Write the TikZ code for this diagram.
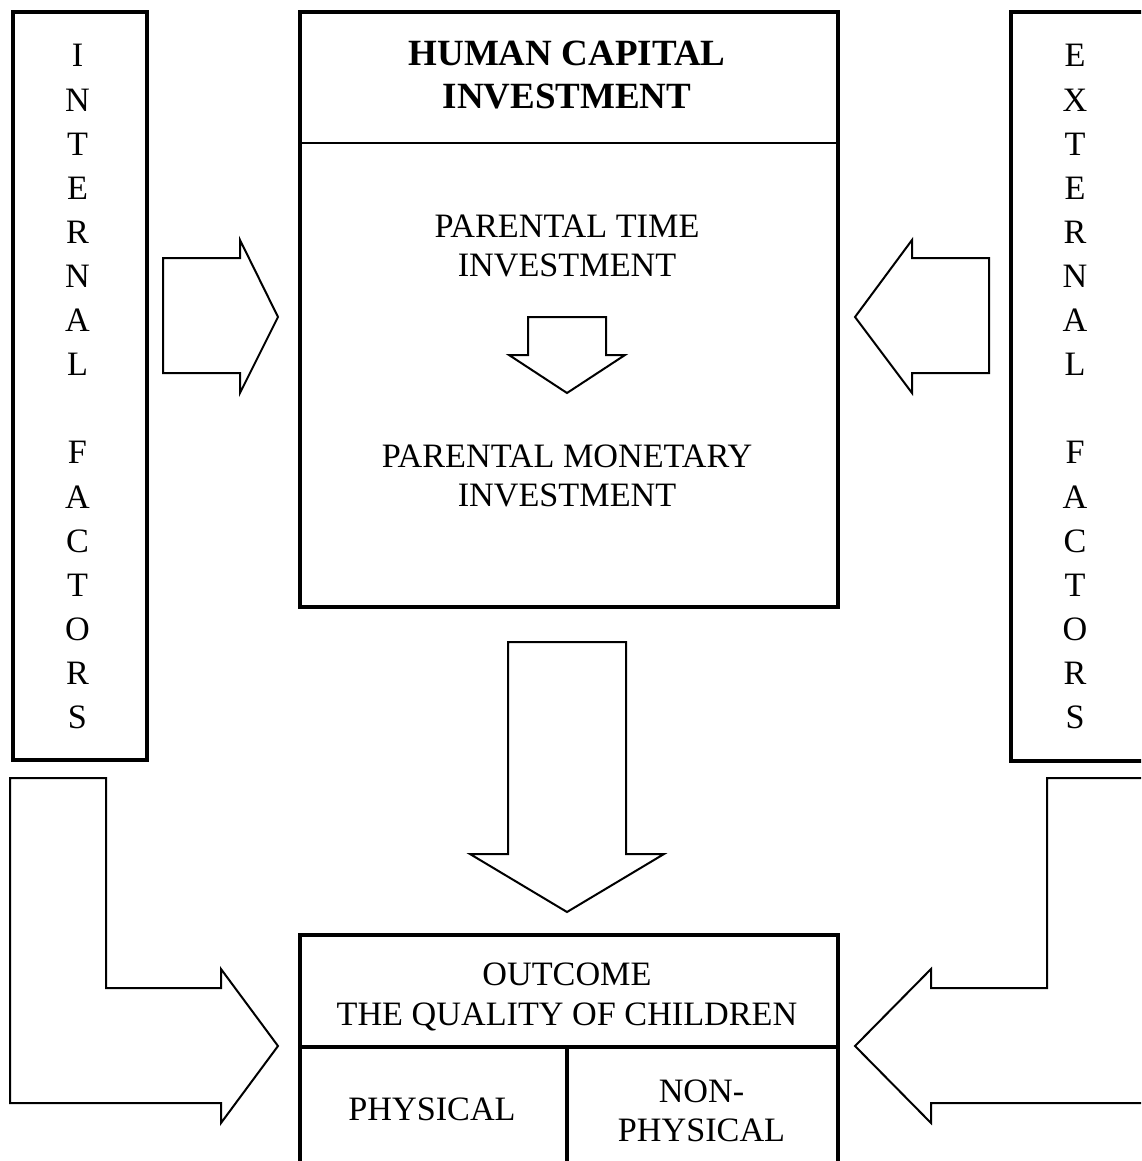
\documentclass[tikz,border=0pt]{standalone}
\usepackage{fontspec}
\setmainfont{Liberation Serif}
\begin{document}
\begin{tikzpicture}[x=1pt,y=-1pt,
  box/.style={draw, line width=4pt, rectangle, inner sep=0pt, anchor=north west},
  blockarrow/.style={draw, line width=2pt, line join=miter, miter limit=10, fill=white},
  txt/.style={inner sep=0pt, anchor=base, font=\fontsize{34.2}{39.5}\selectfont},
  btxt/.style={inner sep=0pt, anchor=base, font=\fontsize{37}{43}\selectfont\bfseries}]
\useasboundingbox (0,0) rectangle (1141,1161);
\clip (0,0) rectangle (1141,1161);
\fill[white] (0,0) rectangle (1141,1161);

% side boxes
\node[box, minimum width=134.5pt, minimum height=747.5pt] (internal) at (10.5,10.5) {};
\node[box, minimum width=140pt, minimum height=748.5pt] (external) at (1009,10.5) {};
\foreach \l [count=\i] in {I,N,T,E,R,N,A,L,{},F,A,C,T,O,R,S}
  \node[txt] (in\i) at (77.5,{67+44.1*(\i-1)}) {\l};
\foreach \l [count=\i] in {E,X,T,E,R,N,A,L,{},F,A,C,T,O,R,S}
  \node[txt] (ex\i) at (1075,{67+44.1*(\i-1)}) {\l};

% human capital investment box
\node[box, minimum width=538pt, minimum height=594.5pt] (hci) at (298,10.5) {};
\draw[line width=2pt] (298,143) -- (836,143);
\node[btxt] (hci1) at (567,66) {HUMAN CAPITAL};
\node[btxt] (hci2) at (567,109) {INVESTMENT};
\node[txt] (pt1) at (567,237) {PARENTAL TIME};
\node[txt] (pt2) at (567,276) {INVESTMENT};
\node[txt] (pm1) at (567,467) {PARENTAL MONETARY};
\node[txt] (pm2) at (567,506) {INVESTMENT};

% outcome box
\node[box, minimum width=538pt, minimum height=240pt] (out) at (298,933) {};
\draw[line width=4pt] (298,1047) -- (836,1047);
\draw[line width=4pt] (567,1047) -- (567,1175);
\node[txt] (o1) at (567,985) {OUTCOME};
\node[txt] (o2) at (567,1025) {THE QUALITY OF CHILDREN};
\node[txt] (phys) at (432,1120) {PHYSICAL};
\node[txt] (np1) at (701.5,1102) {NON-};
\node[txt] (np2) at (701.5,1141) {PHYSICAL};

% block arrows
\draw[blockarrow] (163,258) -- (240,258) -- (240,240) -- (278,317) -- (240,393) -- (240,373) -- (163,373) -- cycle;
\draw[blockarrow] (989,258) -- (912,258) -- (912,240) -- (855,317) -- (912,393) -- (912,373) -- (989,373) -- cycle;
\draw[blockarrow] (528,317) -- (606,317) -- (606,355) -- (625,355) -- (567,393) -- (509,355) -- (528,355) -- cycle;
\draw[blockarrow] (508,642) -- (626,642) -- (626,854) -- (664,854) -- (567,912) -- (470,854) -- (508,854) -- cycle;
\draw[blockarrow] (10,778) -- (106,778) -- (106,988) -- (221,988) -- (221,969) -- (278,1046) -- (221,1123) -- (221,1103) -- (10,1103) -- cycle;
\draw[blockarrow] (1170,778) -- (1047,778) -- (1047,988) -- (931,988) -- (931,969) -- (855,1046) -- (931,1123) -- (931,1103) -- (1170,1103) -- cycle;
\end{tikzpicture}
\end{document}
